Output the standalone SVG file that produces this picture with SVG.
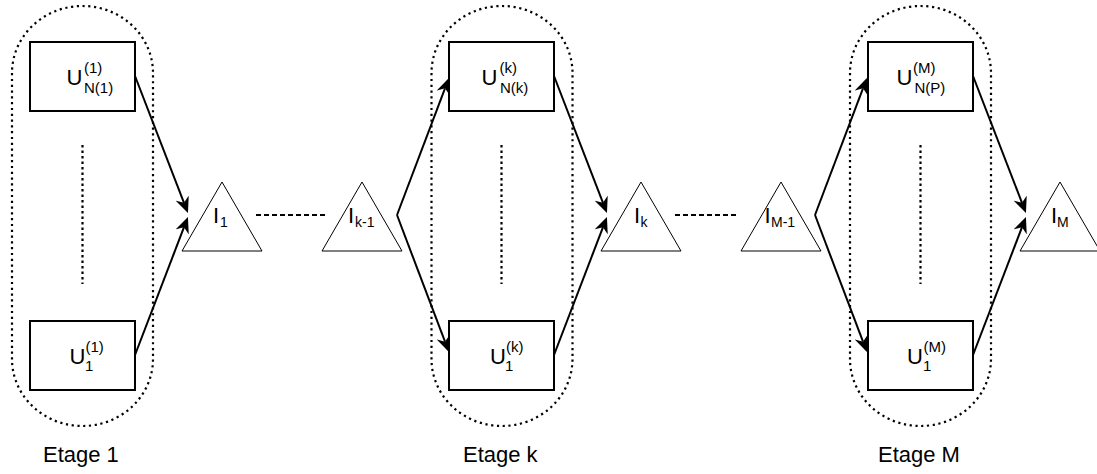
<svg xmlns="http://www.w3.org/2000/svg" width="1097" height="474" viewBox="0 0 1097 474">
<style>
.stage{fill:none;stroke:#000;stroke-width:2.2;stroke-dasharray:2.2 3.6}
.box{fill:#fff;stroke:#000;stroke-width:2}
.tri{fill:#fff;stroke:#000;stroke-width:1}
.vdots{stroke:#000;stroke-width:2.2;stroke-dasharray:2.5 3}
.hdash{stroke:#000;stroke-width:2;stroke-dasharray:5 3}
.edge{stroke:#000;stroke-width:2;fill:none;marker-end:url(#arr)}
text{font-family:"Liberation Sans",Arial,sans-serif;fill:#000}
.big{font-size:22px}
.small{font-size:15px}
.tsub{font-size:14px}
</style>
<defs>
<marker id="arr" viewBox="0 0 16 14" markerUnits="userSpaceOnUse" markerWidth="16" markerHeight="14" refX="5" refY="7" orient="auto">
<path d="M0,0 L16,7 L0,14 L5,7 z" fill="#000"/>
</marker>
</defs>
<rect width="1097" height="474" fill="#fff"/>

<g id="stage1">
<rect class="stage" x="12" y="6" width="141" height="420" rx="70.5" ry="67"/>
<line class="vdots" x1="82.5" y1="145" x2="82.5" y2="284"/>
<text class="big" x="43" y="462">Etage 1</text>
</g>
<g id="stagek">
<rect class="stage" x="431.5" y="6" width="141" height="420" rx="70.5" ry="67"/>
<line class="vdots" x1="501.5" y1="145" x2="501.5" y2="284"/>
<text class="big" x="463" y="462">Etage k</text>
</g>
<g id="stageM">
<rect class="stage" x="850" y="6" width="141" height="420" rx="70.5" ry="67"/>
<line class="vdots" x1="920.5" y1="145" x2="920.5" y2="284"/>
<text class="big" x="878" y="462">Etage M</text>
</g>

<g id="connectors">
<line class="hdash" x1="256" y1="215" x2="328" y2="215"/>
<line class="hdash" x1="675" y1="215" x2="739" y2="215"/>
<line class="edge" x1="135" y1="76" x2="184" y2="202.8"/>
<line class="edge" x1="135" y1="355" x2="184" y2="227.2"/>
<line class="edge" x1="554" y1="76" x2="603" y2="202.8"/>
<line class="edge" x1="554" y1="355" x2="603" y2="227.2"/>
<line class="edge" x1="973" y1="76" x2="1022" y2="202.8"/>
<line class="edge" x1="973" y1="355" x2="1022" y2="227.2"/>
<line class="edge" x1="397" y1="215" x2="445" y2="88.3"/>
<line class="edge" x1="397" y1="215" x2="445" y2="341.7"/>
<line class="edge" x1="815" y1="215" x2="863" y2="88.3"/>
<line class="edge" x1="815" y1="215" x2="863" y2="341.7"/>
</g>

<g id="u1top">
<rect class="box" x="30" y="42" width="105" height="69"/>
<text class="big" x="66.5" y="85">U</text>
<text class="small" x="84" y="73">(1)</text>
<text class="small" x="84" y="93">N(1)</text>
</g>
<g id="u1bot">
<rect class="box" x="30" y="321" width="105" height="69"/>
<text class="big" x="69.5" y="364">U</text>
<text class="small" x="85.5" y="352">(1)</text>
<text class="small" x="85" y="371">1</text>
</g>
<g id="uktop">
<rect class="box" x="449" y="42" width="105" height="69"/>
<text class="big" x="481.5" y="85">U</text>
<text class="small" x="499.5" y="73">(k)</text>
<text class="small" x="500" y="93">N(k)</text>
</g>
<g id="ukbot">
<rect class="box" x="449" y="321" width="105" height="69"/>
<text class="big" x="490" y="364">U</text>
<text class="small" x="506" y="352">(k)</text>
<text class="small" x="505" y="371">1</text>
</g>
<g id="uMtop">
<rect class="box" x="868" y="42" width="105" height="69"/>
<text class="big" x="896.5" y="85">U</text>
<text class="small" x="913" y="73">(M)</text>
<text class="small" x="914.5" y="93">N(P)</text>
</g>
<g id="uMbot">
<rect class="box" x="868" y="321" width="105" height="69"/>
<text class="big" x="907" y="364">U</text>
<text class="small" x="923.5" y="352">(M)</text>
<text class="small" x="923" y="371">1</text>
</g>

<g id="i1">
<polygon class="tri" points="222,182 262,251 182,251"/>
<text class="big" x="213" y="223">I</text>
<text class="tsub" x="220" y="227">1</text>
</g>
<g id="ik1">
<polygon class="tri" points="362,182 402,251 322,251"/>
<text class="big" x="348" y="223">I</text>
<text class="tsub" x="355" y="227">k-1</text>
</g>
<g id="ik">
<polygon class="tri" points="641,182 681,251 601,251"/>
<text class="big" x="634" y="223">I</text>
<text class="tsub" x="640.5" y="227">k</text>
</g>
<g id="iM1">
<polygon class="tri" points="781,182 821,251 741,251"/>
<text class="big" x="764.5" y="223">I</text>
<text class="tsub" x="771" y="227">M-1</text>
</g>
<g id="iM">
<polygon class="tri" points="1060,182 1100,251 1020,251"/>
<text class="big" x="1051" y="223">I</text>
<text class="tsub" x="1057" y="227">M</text>
</g>
</svg>
